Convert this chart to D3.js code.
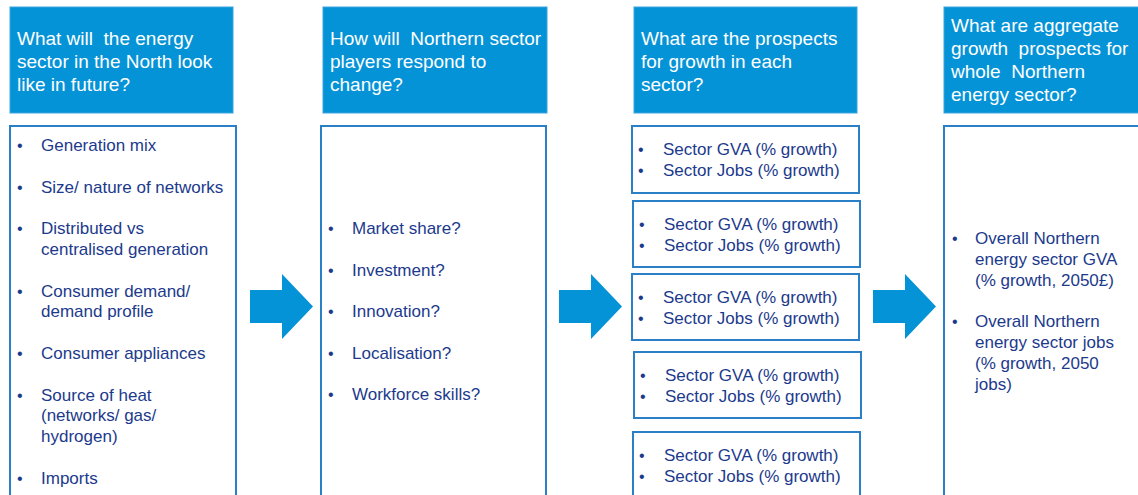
<!DOCTYPE html>
<html><head><meta charset="utf-8">
<script src="https://cdn.jsdelivr.net/npm/d3@7"></script>
<style>html,body{margin:0;padding:0;background:#fff;overflow:hidden}</style>
</head><body>
<svg id="c" width="1138" height="495"></svg>
<script>
// ---- data (text only) ----
const headers = [
  ["What will  the energy", "sector in the North look", "like in future?"],
  ["How will  Northern sector", "players respond to", "change?"],
  ["What are the prospects", "for growth in each", "sector?"],
  ["What are aggregate", "growth  prospects for", "whole  Northern", "energy sector?"]
];
const futureItems = [
  ["Generation mix"],
  ["Size/ nature of networks"],
  ["Distributed vs", "centralised generation"],
  ["Consumer demand/", "demand profile"],
  ["Consumer appliances"],
  ["Source of heat", "(networks/ gas/", "hydrogen)"],
  ["Imports"]
];
const responseItems = [
  ["Market share?"], ["Investment?"], ["Innovation?"], ["Localisation?"], ["Workforce skills?"]
];
const sectorBoxes = ["A", "B", "C", "D", "E"];
const sectorItems = [["Sector GVA (% growth)"], ["Sector Jobs (% growth)"]];
const aggregateItems = [
  ["Overall Northern", "energy sector GVA", "(% growth, 2050£)"],
  ["Overall Northern", "energy sector jobs", "(% growth, 2050", "jobs)"]
];

// ---- layout ----
const svg = d3.select("#c");
const FILL = "#0593d7", BORDER = "#2b7fc6", NAVY = "#1c3a8c", FONT = "'Liberation Sans', Arial, sans-serif";
const colX = d3.scaleOrdinal().domain([0,1,2,3]).range([10, 323, 634, 944]);
const colW = d3.scaleOrdinal().domain([0,1,2,3]).range([223, 224, 223, 200]);

// headers
const hg = svg.selectAll("g.h").data(headers).join("g").attr("class", "h");
hg.append("rect")
  .attr("x", (d,i) => colX(i)).attr("y", 7)
  .attr("width", (d,i) => colW(i)).attr("height", 106)
  .attr("fill", FILL).attr("stroke", "#3aa3e0").attr("stroke-width", 1);
hg.each(function(lines, i) {
  const base = lines.length === 4 ? 32 : 44.5;
  d3.select(this).selectAll("text").data(lines).join("text")
    .attr("x", colX(i) + 7)
    .attr("y", (d,k) => base + k * 23)
    .attr("fill", "#fff").attr("font-family", FONT).attr("font-size", 19)
    .attr("xml:space", "preserve").style("white-space", "pre")
    .text(d => d);
});

// outlined boxes
function box(x, y, w, h) {
  svg.append("rect").attr("x", x).attr("y", y).attr("width", w).attr("height", h)
    .attr("fill", "none").attr("stroke", BORDER).attr("stroke-width", 2);
}
box(10, 126, 226, 400);
box(321, 126, 225, 400);
box(944, 126, 220, 400);

// bullet list
function bullets(items, x0, firstBase, lh, gap, off) {
  let y = firstBase;
  items.forEach(lines => {
    svg.append("text").attr("x", x0).attr("y", y).attr("fill", NAVY)
      .attr("font-family", FONT).attr("font-size", 16).text("•");
    lines.forEach((t, k) => {
      svg.append("text").attr("x", x0 + off).attr("y", y + k * lh).attr("fill", NAVY)
        .attr("font-family", FONT).attr("font-size", 17).text(t);
    });
    y += lines.length * lh + gap;
  });
}
bullets(futureItems, 17, 151, 20.8, 20.8, 24);
bullets(responseItems, 328, 234, 20.8, 20.8, 24);
bullets(aggregateItems, 952, 244, 20.8, 20.8, 23);

// sector boxes
const sBoxY = d3.scaleOrdinal().domain(sectorBoxes).range([126, 201, 274, 352, 432]);
const sBoxX = d3.scaleOrdinal().domain(sectorBoxes).range([632, 633, 632, 634, 633]);
const sBoxH = d3.scaleOrdinal().domain(sectorBoxes).range([67, 66, 66, 66, 100]);
sectorBoxes.forEach(b => {
  box(sBoxX(b), sBoxY(b), 227, sBoxH(b));
  bullets(sectorItems, sBoxX(b) + 6, sBoxY(b) + 29, 21, 0, 25);
});

// arrows
const arrowX = [250, 559, 873];
const arrow = d3.line();
arrowX.forEach(x => {
  svg.append("path").attr("fill", FILL).attr("d", arrow([
    [x, 290], [x + 32, 290], [x + 32, 274], [x + 63, 306.5],
    [x + 32, 339], [x + 32, 323], [x, 323]
  ]) + "Z");
});
</script>
</body></html>
